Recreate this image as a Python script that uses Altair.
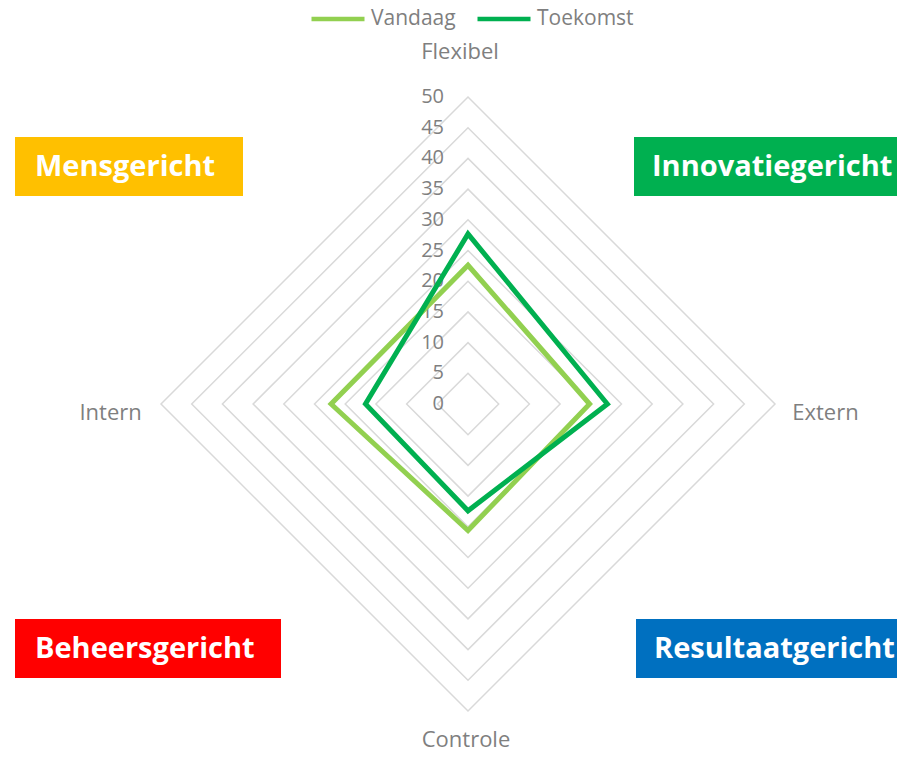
import altair as alt
import pandas as pd

# ---- data ----
axis_names = ["Flexibel", "Extern", "Controle", "Intern"]
vandaag = [22.6, 19.8, 20.6, 22.3]
toekomst = [27.7, 22.7, 17.4, 16.7]
series_names = ["Vandaag", "Toekomst"]
series_colors = ["#92D050", "#00B050"]
ring_values = [5, 10, 15, 20, 25, 30, 35, 40, 45, 50]
tick_values = [0, 5, 10, 15, 20, 25, 30, 35, 40, 45, 50]
quadrant_labels = ["Mensgericht", "Innovatiegericht", "Beheersgericht", "Resultaatgericht"]
quadrant_colors = ["#FFC000", "#00B050", "#FF0000", "#0070C0"]

FONT = "Open Sans"
GRAY = "#7f7f7f"

rows = []
for s, vals in zip(series_names, [vandaag, toekomst]):
    for i, (a, v) in enumerate(zip(axis_names, vals)):
        rows.append({"series": s, "axis": a, "idx": i, "value": v})
series_df = pd.DataFrame(rows)

grid_df = pd.DataFrame([{"ring": r, "idx": i, "value": r} for r in ring_values for i in range(len(axis_names))])
tick_df = pd.DataFrame({"value": tick_values})
label_df = pd.DataFrame({"axis": axis_names, "idx": list(range(len(axis_names)))})

xs = alt.Scale(domain=[-50, 50], nice=False, zero=False)
ys = alt.Scale(domain=[-50, 50], nice=False, zero=False)

def polar(chart, rexpr="datum.value"):
    return chart.transform_calculate(
        ang="datum.idx * PI / 2"
    ).transform_calculate(
        px=f"({rexpr}) * sin(datum.ang)",
        py=f"({rexpr}) * cos(datum.ang)",
    )

X = alt.X("px:Q", scale=xs, axis=None)
Y = alt.Y("py:Q", scale=ys, axis=None)

grid = polar(alt.Chart(grid_df)).mark_line(
    interpolate="linear-closed", color="#d9d9d9", strokeWidth=1.5
).encode(x=X, y=Y, detail="ring:N", order="idx:Q")

ticks = alt.Chart(tick_df).transform_calculate(px="0").mark_text(
    align="right", baseline="middle", dx=-24, fontSize=20, font=FONT, color=GRAY
).encode(x=alt.X("px:Q", scale=xs, axis=None), y=alt.Y("value:Q", scale=ys, axis=None), text="value:Q")

legend = alt.Legend(
    orient="none", legendX=148, legendY=-107, direction="horizontal", title=None,
    symbolType="stroke", symbolStrokeWidth=4.5, symbolSize=2809,
    labelFontSize=21, labelFont=FONT, labelColor=GRAY, labelOffset=4,
    columnPadding=12, padding=0,
)
color = alt.Color("series:N", scale=alt.Scale(domain=series_names, range=series_colors), legend=legend)

line_layers = []
for s in series_names:
    line_layers.append(
        polar(alt.Chart(series_df).transform_filter(alt.datum.series == s)).mark_line(
            interpolate="linear-closed", strokeWidth=5, strokeJoin="miter"
        ).encode(x=X, y=Y, color=color, order="idx:Q")
    )

# axis category labels: (label radius, dx, dy) per axis position
label_place = [(57.3, -8, 0), (53.0, 32, 9), (54.9, -2, -1), (53.0, -32, 9)]
label_layers = []
for i, (r, dx, dy) in enumerate(label_place):
    label_layers.append(
        polar(alt.Chart(label_df).transform_filter(alt.datum.idx == i), rexpr=str(r)).mark_text(
            align="center", baseline="middle", fontSize=22, font=FONT, color=GRAY, dx=dx, dy=dy
        ).encode(x=X, y=Y, text="axis:N")
    )

# quadrant boxes (layout in view pixels)
box_layout = [(-146, 82, 40, 99, 20), (473, 736, 40, 99, 18), (-146, 120, 522, 581, 20), (475, 736, 522, 581, 18)]
box_layers = []
for name, col, (x0, x1, y0, y1, pad) in zip(quadrant_labels, quadrant_colors, box_layout):
    d = pd.DataFrame({"label": [name]})
    box_layers.append(alt.Chart(d).mark_rect(color=col).encode(
        x=alt.value(x0), x2=alt.value(x1), y=alt.value(y0), y2=alt.value(y1)))
    box_layers.append(alt.Chart(d).mark_text(
        align="left", baseline="middle", fontSize=29, fontWeight="bold", font=FONT, color="white"
    ).encode(x=alt.value(x0 + pad), y=alt.value((y0 + y1) / 2), text="label:N"))

chart = alt.layer(grid, ticks, *line_layers, *label_layers, *box_layers).properties(
    width=614, height=614,
    padding={"left": 153, "top": 89, "right": 122, "bottom": 39},
    autosize="none",
    background="white",
).configure_view(stroke=None)

chart.save("out.html", embed_options={"renderer": "svg", "actions": False})
